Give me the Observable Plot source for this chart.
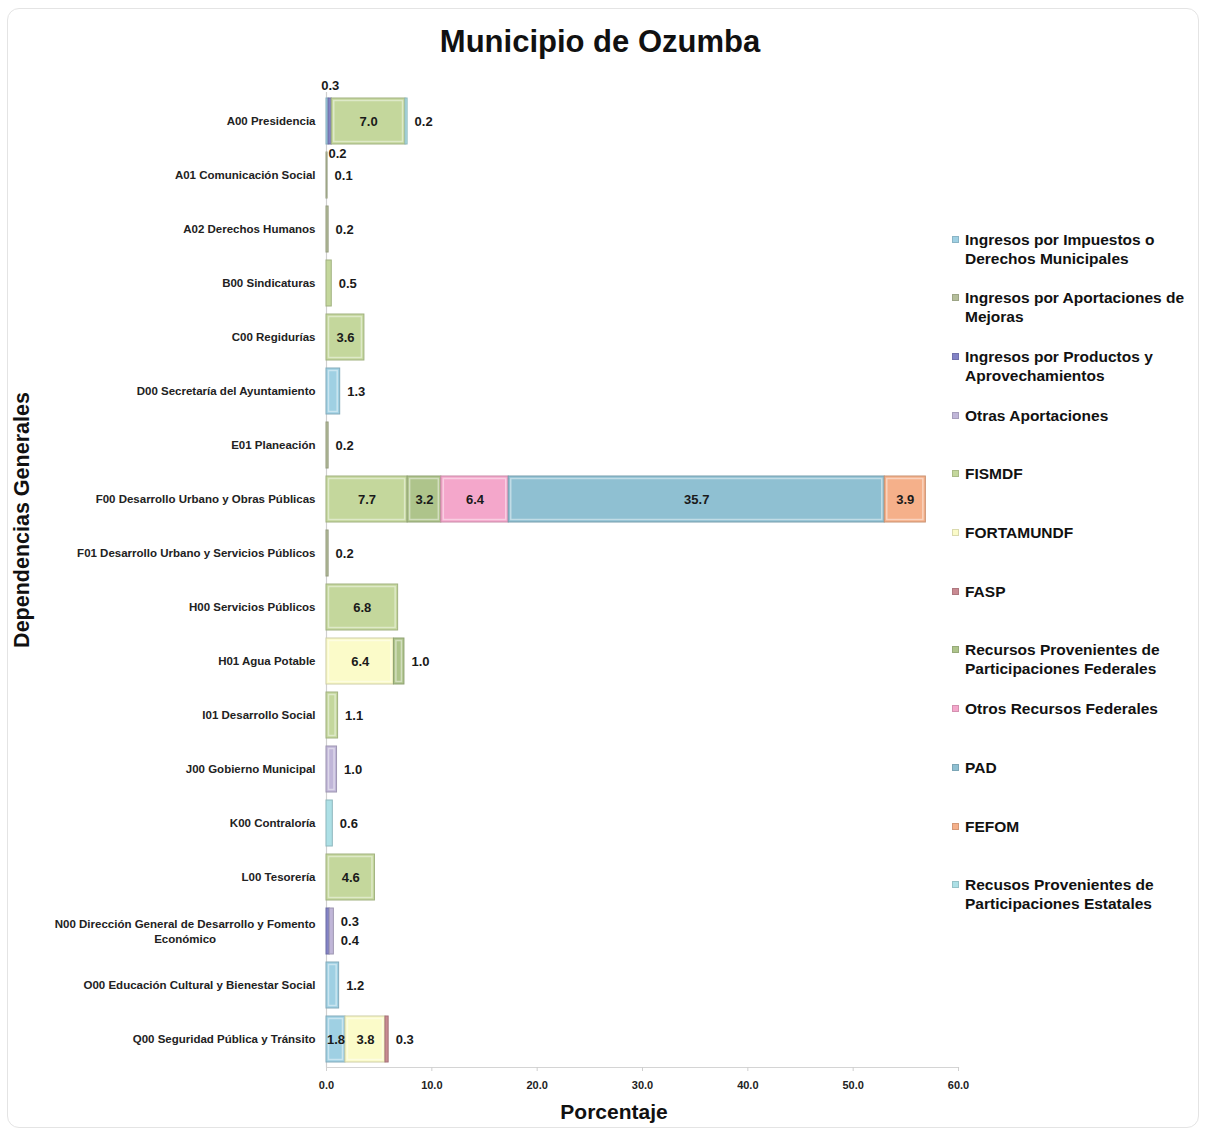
<!DOCTYPE html>
<html>
<head>
<meta charset="utf-8">
<script src="https://cdn.jsdelivr.net/npm/d3@7"></script>
<script src="https://cdn.jsdelivr.net/npm/@observablehq/plot@0.6"></script>
<style>
  html, body { margin: 0; padding: 0; background: #fff; }
  #wrap { position: relative; width: 1206px; height: 1133px; background: #fff; overflow: hidden;
          font-family: "Liberation Sans", Arial, sans-serif; color: #111; }
  #frame { position: absolute; left: 7px; top: 8px; width: 1190px; height: 1118px;
           border: 1px solid #e4e4e4; border-radius: 12px; }
  #title { position: absolute; left: 0; top: 23px; width: 1200px; text-align: center;
           font-size: 31px; line-height: 38px; font-weight: bold; }
  #chart { position: absolute; left: 0; top: 0; }
  #ytitle { position: absolute; left: -178px; top: 507px; width: 400px; height: 26px; line-height: 26px;
            text-align: center; font-size: 21.5px; font-weight: bold; transform: rotate(-90deg); transform-origin: center; }
  #xtitle { position: absolute; left: 514px; top: 1100px; width: 200px; text-align: center;
            font-size: 21px; line-height: 24px; font-weight: bold; }
  .item { position: absolute; left: 952px; width: 250px; }
  .sw { position: absolute; left: 0; top: 6px; width: 7px; height: 7px; box-sizing: border-box; }
  .lt { position: absolute; left: 13px; top: 0; width: 232px; font-size: 15.5px; line-height: 19px; font-weight: bold; color: #111; }
  #chart g[aria-label="x-axis tick label"] text { font-size: 11px; font-weight: bold; }
</style>
</head>
<body>
<div id="wrap">
  <div id="frame"></div>
  <div id="title">Municipio de Ozumba</div>
  <div id="chart"></div>
  <div id="ytitle">Dependencias Generales</div>
  <div id="xtitle">Porcentaje</div>
  <div id="legend"></div>
</div>
<script>
// ---------- data ----------
const categories = [
  "A00 Presidencia",
  "A01 Comunicación Social",
  "A02 Derechos Humanos",
  "B00 Sindicaturas",
  "C00 Regidurías",
  "D00 Secretaría del Ayuntamiento",
  "E01 Planeación",
  "F00 Desarrollo Urbano y Obras Públicas",
  "F01 Desarrollo Urbano y Servicios Públicos",
  "H00 Servicios Públicos",
  "H01 Agua Potable",
  "I01 Desarrollo Social",
  "J00 Gobierno Municipal",
  "K00 Contraloría",
  "L00 Tesorería",
  "N00 Dirección General de Desarrollo y Fomento Económico",
  "O00 Educación Cultural y Bienestar Social",
  "Q00 Seguridad Pública y Tránsito"
];

const seriesNames = [
  "Ingresos por Impuestos o Derechos Municipales",
  "Ingresos por Aportaciones de Mejoras",
  "Ingresos por Productos y Aprovechamientos",
  "Otras Aportaciones",
  "FISMDF",
  "FORTAMUNDF",
  "FASP",
  "Recursos Provenientes de Participaciones Federales",
  "Otros Recursos Federales",
  "PAD",
  "FEFOM",
  "Recusos Provenientes de Participaciones Estatales"
];

const seriesColors = [
  "#9fd0e3", "#b5be9b", "#8383c6", "#c0b6d8", "#c4d79c", "#fbfbc9",
  "#c98a92", "#aec48b", "#f4a7cb", "#8fc0d2", "#f5b08a", "#ade0e6"
];

// values per series, in the order of categories (percent)
const impuestos        = [0.2, 0,   0,   0,   0,   1.3, 0,   0,    0,   0,   0,   0,   0,   0,   0,   0,   1.2, 1.8];
const mejoras          = [0,   0.1, 0.2, 0,   0,   0,   0.2, 0,    0.2, 0,   0,   0,   0,   0,   0,   0,   0,   0];
const productos        = [0.3, 0,   0,   0,   0,   0,   0,   0,    0,   0,   0,   0,   0,   0,   0,   0.3, 0,   0];
const otrasAportaciones= [0,   0,   0,   0,   0,   0,   0,   0,    0,   0,   0,   0,   1.0, 0,   0,   0.4, 0,   0];
const fismdf           = [7.0, 0,   0,   0.5, 3.6, 0,   0,   7.7,  0,   6.8, 0,   1.1, 0,   0,   4.6, 0,   0,   0];
const fortamundf       = [0,   0,   0,   0,   0,   0,   0,   0,    0,   0,   6.4, 0,   0,   0,   0,   0,   0,   3.8];
const fasp             = [0,   0,   0,   0,   0,   0,   0,   0,    0,   0,   0,   0,   0,   0,   0,   0,   0,   0.3];
const partFederales    = [0,   0,   0,   0,   0,   0,   0,   3.2,  0,   0,   1.0, 0,   0,   0,   0,   0,   0,   0];
const otrosFederales   = [0,   0,   0,   0,   0,   0,   0,   6.4,  0,   0,   0,   0,   0,   0,   0,   0,   0,   0];
const pad              = [0,   0,   0,   0,   0,   0,   0,   35.7, 0,   0,   0,   0,   0,   0,   0,   0,   0,   0];
const fefom            = [0,   0,   0,   0,   0,   0,   0,   3.9,  0,   0,   0,   0,   0,   0,   0,   0,   0,   0];
const partEstatales    = [0.2, 0,   0,   0,   0,   0,   0,   0,    0,   0,   0,   0,   0,   0.6, 0,   0,   0,   0];

const seriesValues = [impuestos, mejoras, productos, otrasAportaciones, fismdf, fortamundf,
                      fasp, partFederales, otrosFederales, pad, fefom, partEstatales];

const xTicks = [0, 10, 20, 30, 40, 50, 60];

// ---------- build stacked segments ----------
const colorOf = s => seriesColors[seriesNames.indexOf(s)];
const segs = [];
const totals = [];
categories.forEach((dep, i) => {
  let cum = 0;
  seriesNames.forEach((s, k) => {
    const v = seriesValues[k][i];
    if (v > 0) { segs.push({dep, series: s, v, x1: cum, x2: cum + v}); cum += v; }
  });
  totals[i] = cum;
});

// ---------- value labels ----------
const BIG = 1.5;
const labels = [];
categories.forEach((dep, i) => {
  const row = segs.filter(d => d.dep === dep);
  const total = totals[i];
  const bigIdx = row.map((d, j) => d.v >= BIG ? j : -1).filter(j => j >= 0);
  row.forEach(d => { if (d.v >= BIG) labels.push({dep, x: (d.x1 + d.x2) / 2, text: d.v.toFixed(1), anchor: "middle", dx: 0, dy: 0}); });
  let before = [], after = [];
  if (bigIdx.length === 0) after = row;
  else { before = row.slice(0, bigIdx[0]); after = row.slice(bigIdx[bigIdx.length - 1] + 1); }
  before.forEach((d, j) => {
    if (j % 2 === 0) labels.push({dep, x: d.x1, text: d.v.toFixed(1), anchor: "start", dx: 2, dy: 32});
    else labels.push({dep, x: (d.x1 + d.x2) / 2, text: d.v.toFixed(1), anchor: "middle", dx: 0, dy: -36});
  });
  after.forEach((d, j) => {
    const dy = after.length === 1 ? 0 : (j === 0 ? -9.5 : 9.5);
    labels.push({dep, x: total, text: d.v.toFixed(1), anchor: "start", dx: 7, dy});
  });
});
// group labels by placement so each group becomes one text mark with constant offsets
const labelGroups = d3.groups(labels, d => d.anchor + "|" + d.dx + "|" + d.dy);

// ---------- category labels (with wrapping of long names) ----------
const FONT = "'Liberation Sans', Arial, sans-serif";
const ctx = document.createElement("canvas").getContext("2d");
ctx.font = "bold 11.5px " + FONT;
const single = [], line1 = [], line2 = [];
categories.forEach(c => {
  if (c.length > 46) {
    const cut = c.lastIndexOf(" ", 46);
    const a = c.slice(0, cut), b = c.slice(cut + 1);
    line1.push({dep: c, text: a});
    line2.push({dep: c, text: b, w: ctx.measureText(a).width});
  } else single.push({dep: c, text: c});
});

const labelCommon = {fontSize: 11.5, fontWeight: "bold", fill: "#222", fontFamily: FONT};

const chart = Plot.plot({
  width: 1206,
  height: 1133,
  marginLeft: 326,
  marginRight: 248,
  marginTop: 92,
  marginBottom: 66,
  style: {fontFamily: FONT, background: "transparent", overflow: "visible"},
  x: {domain: [0, 60], label: null},
  y: {domain: categories, paddingInner: 0.15, paddingOuter: 0.075, label: null, axis: null},
  marks: [
    Plot.ruleX([0], {stroke: "#cfcfcf", strokeWidth: 1.2}),
    Plot.frame({anchor: "bottom", stroke: "#d4d4d4", strokeWidth: 1.2}),
    Plot.barX(segs, {
      x1: "x1", x2: "x2", y: "dep",
      fill: d => colorOf(d.series),
      stroke: d => d3.color(colorOf(d.series)).darker(0.55).formatHex(),
      strokeWidth: 1
    }),
    Plot.barX(segs.filter(d => d.v >= 0.8), {
      x1: "x1", x2: "x2", y: "dep", insetTop: 2.5, insetBottom: 2.5, insetLeft: 2.5, insetRight: 2.5,
      fill: "none", stroke: "white", strokeOpacity: 0.45, strokeWidth: 1.5
    }),
    ...labelGroups.map(([key, arr]) => Plot.text(arr, {
      x: "x", y: "dep", text: "text",
      dx: arr[0].dx, dy: arr[0].dy, textAnchor: arr[0].anchor,
      fontSize: 13, fontWeight: "bold", fill: "#1a1a1a"
    })),
    Plot.text(single, {y: "dep", text: "text", frameAnchor: "left", textAnchor: "end", dx: -11, ...labelCommon}),
    Plot.text(line1, {y: "dep", text: "text", frameAnchor: "left", textAnchor: "end", dx: -11, dy: -7.5, ...labelCommon}),
    ...line2.map(d => Plot.text([d], {y: "dep", text: "text", frameAnchor: "left", textAnchor: "middle",
        dx: -(11 + d.w / 2), dy: 7.5, ...labelCommon})),
    Plot.axisX({ticks: xTicks, tickFormat: d => d.toFixed(1), tickSize: 4, tickPadding: 10,
                fontSize: 11, fontWeight: "bold", stroke: "#cfcfcf", fill: "#222", label: null})
  ]
});
document.getElementById("chart").appendChild(chart);

// ---------- legend ----------
const legend = document.getElementById("legend");
seriesNames.forEach((s, k) => {
  const item = document.createElement("div");
  item.className = "item";
  item.style.top = (229.5 + k * 58.7) + "px";
  const sw = document.createElement("div");
  sw.className = "sw";
  sw.style.background = seriesColors[k];
  sw.style.border = "1px solid " + d3.color(seriesColors[k]).darker(0.4).formatHex();
  const t = document.createElement("div");
  t.className = "lt";
  t.textContent = s;
  item.appendChild(sw); item.appendChild(t);
  legend.appendChild(item);
});
</script>
</body>
</html>
